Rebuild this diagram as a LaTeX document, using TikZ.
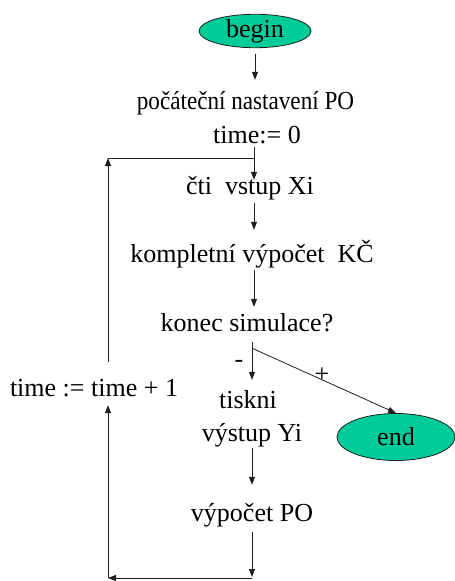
\documentclass[tikz,border=0pt]{standalone}
\usepackage{fontspec}
\setmainfont{Liberation Serif}
\usetikzlibrary{shapes.geometric,arrows.meta}
\definecolor{termfill}{RGB}{0,204,153}
\definecolor{linecol}{RGB}{30,30,30}
\begin{document}
\begin{tikzpicture}[x=1pt,y=-1pt,
  every node/.style={font=\fontsize{26}{33}\selectfont},
  txt/.style={inner sep=1pt,text height=17pt,text depth=5pt},
  term/.style={ellipse,draw=linecol,fill=termfill,line width=0.8pt,inner sep=0pt},
  arr/.style={draw=linecol,line width=0.8pt,-{Triangle[length=8pt,width=6pt]}},
  ln/.style={draw=linecol,line width=0.8pt}]
\useasboundingbox (0,0) rectangle (455,581);

% main column axis
\coordinate (ax) at (254,0);

% nodes
\node[term,minimum width=112pt,minimum height=32pt] (begin) at (255,31) {begin};
\node[txt] (init) at (245.5,103) {\scalebox{0.89}[1]{počáteční nastavení PO}};
\node[txt] (time0) at (257,137) {time:= 0};
\node[txt] (cti) at (250,188) {čti\ \ vstup Xi};
\node[txt] (komp) at (252,256) {kompletní výpočet\ \ KČ};
\node[txt] (konec) at (247,325) {konec simulace?};
\node[txt] (tiskni) at (248,402) {tiskni};
\node[txt] (vystup) at (252,435) {výstup Yi};
\node[term,minimum width=118pt,minimum height=47pt] (end) at (396,437) {end};
\node[txt] (vyp) at (252,515) {výpočet PO};
\node[txt] (tinc) at (94,390) {time := time + 1};
\node[inner sep=0pt] (minus) at (239,364) {-};
\node[inner sep=0pt] (plus) at (322,375) {+};

% loop corner points
\coordinate (jn) at (254,158);
\coordinate (lt) at (108,158);
\coordinate (cr) at (252,578);
\coordinate (bl) at (108,578);

% connectors
\draw[arr] ([yshift=-6pt]begin.south) -- ([yshift=11pt]init.north -| begin.south);
\draw[arr] ([yshift=2pt]time0.south -| ax) -- ([yshift=-4pt]cti.north -| ax);
\draw[ln] (lt) -- (jn);
\draw[arr] ([yshift=16pt]tinc.north -| lt) -- (lt);
\draw[arr] ([yshift=-3pt]cti.south -| ax) -- ([yshift=14pt]komp.north -| ax);
\draw[arr] ([yshift=-2pt]komp.south -| ax) -- ([yshift=6pt]konec.north -| ax);
\draw[arr] ([yshift=-5pt]konec.south -| cr) -- ([yshift=10pt]tiskni.north -| cr);
\draw[arr] ([yshift=-11pt]konec.south -| cr) -- (end.north);
\draw[arr] ([yshift=-1pt]vystup.south -| cr) -- ([yshift=18pt]vyp.north -| cr);
\draw[arr] ([yshift=-5pt]vyp.south -| cr) -- ([yshift=1pt]cr);
\draw[arr] (cr) -- (bl);
\draw[arr] (bl) -- ([yshift=-3pt]tinc.south -| bl);
\end{tikzpicture}
\end{document}
